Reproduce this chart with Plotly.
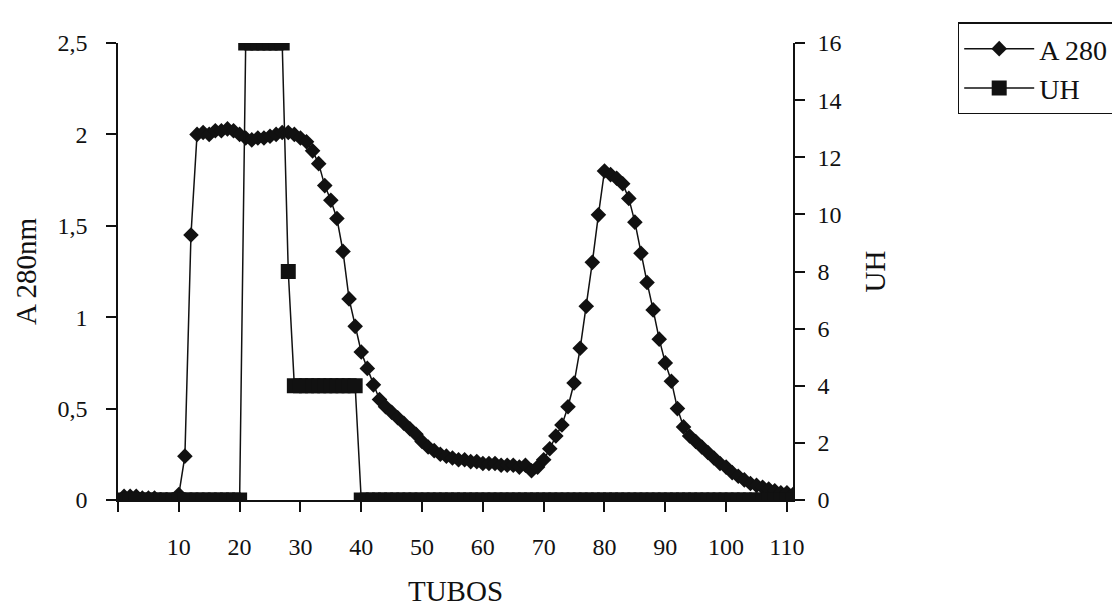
import plotly.graph_objects as go

tubes = list(range(1, 112))
a280 = [
    0.02, 0.02, 0.02, 0.01, 0.01, 0.01, 0.00, 0.00, 0.00, 0.03,
    0.24, 1.45, 2.00, 2.01, 2.00, 2.02, 2.02, 2.03, 2.02, 2.00,
    1.98, 1.97, 1.98, 1.98, 1.99, 2.00, 2.01, 2.01, 2.00, 1.98,
    1.96, 1.91, 1.84, 1.72, 1.64, 1.54, 1.36, 1.10, 0.95, 0.81,
    0.72, 0.63, 0.55, 0.51, 0.48, 0.45, 0.42, 0.39, 0.36, 0.32,
    0.29, 0.27, 0.25, 0.24, 0.23, 0.22, 0.22, 0.21, 0.21, 0.20,
    0.20, 0.20, 0.19, 0.19, 0.19, 0.18, 0.19, 0.16, 0.18, 0.22,
    0.28, 0.35, 0.41, 0.51, 0.64, 0.83, 1.06, 1.30, 1.56, 1.80,
    1.78, 1.76, 1.73, 1.65, 1.52, 1.35, 1.19, 1.04, 0.88, 0.75,
    0.65, 0.50, 0.40, 0.35, 0.32, 0.29, 0.26, 0.23, 0.20, 0.18,
    0.15, 0.13, 0.11, 0.09, 0.08, 0.07, 0.06, 0.05, 0.04, 0.04,
    0.03,
]
uh = [0] * 20 + [16] * 7 + [8] + [4] * 11 + [0] * 72

x_tickvals = [0, 10, 20, 30, 40, 50, 60, 70, 80, 90, 100, 110]
x_ticktext = ["", "10", "20", "30", "40", "50", "60", "70", "80", "90", "100", "110"]
y_tickvals = [0, 0.5, 1, 1.5, 2, 2.5]
y_ticktext = ["0", "0,5", "1", "1,5", "2", "2,5"]
y2_tickvals = [0, 2, 4, 6, 8, 10, 12, 14, 16]
y2_ticktext = ["0", "2", "4", "6", "8", "10", "12", "14", "16"]

FONT = "Liberation Serif"
INK = "#111111"
X_RANGE = [0, 111]

fig = go.Figure()
fig.add_trace(go.Scatter(
    x=tubes, y=a280, name="A 280", mode="lines+markers",
    line=dict(color=INK, width=1.5),
    marker=dict(symbol="diamond", size=12, color=INK),
    xaxis="x", yaxis="y",
))
fig.add_trace(go.Scatter(
    x=tubes, y=uh, name="UH", mode="lines+markers",
    line=dict(color=INK, width=1.5),
    marker=dict(symbol="square", size=15, color=INK),
    xaxis="x", yaxis="y2",
))

axis_common = dict(showgrid=False, zeroline=False, color=INK, automargin=False,
                   tickfont=dict(family=FONT, size=24, color=INK))
TITLE_FONT = dict(family=FONT, size=29, color=INK)

fig.update_layout(
    width=1112, height=607,
    margin=dict(l=118, r=319, t=43, b=107, autoexpand=False),
    paper_bgcolor="white", plot_bgcolor="white",
    font=dict(family=FONT, size=24, color=INK),
    xaxis=dict(range=X_RANGE, tickvals=x_tickvals, ticktext=x_ticktext,
               showline=True, linecolor=INK, linewidth=1.5,
               ticks="outside", ticklen=10, tickwidth=1.5, tickcolor=INK,
               ticklabelstandoff=14,
               title=dict(text="TUBOS", font=TITLE_FONT, standoff=24),
               **axis_common),
    yaxis=dict(range=[0, 2.5], tickvals=y_tickvals, ticktext=y_ticktext,
               showline=True, linecolor=INK, linewidth=1.5,
               ticks="outside", ticklen=10, tickwidth=1.5, tickcolor=INK,
               ticklabelstandoff=14,
               title=dict(text="A 280nm", font=TITLE_FONT, standoff=12),
               **axis_common),
    yaxis2=dict(range=[0, 16], tickvals=y2_tickvals, ticktext=y2_ticktext,
                overlaying="y", side="right", anchor="x",
                showline=True, linecolor=INK, linewidth=1.5,
                ticks="outside", ticklen=10, tickwidth=1.5, tickcolor=INK,
                ticklabelstandoff=8,
                title=dict(text="UH", font=TITLE_FONT, standoff=24),
                **axis_common),
    # inner halves of the crossing tick marks
    xaxis2=dict(range=X_RANGE, tickvals=x_tickvals, overlaying="x", anchor="y", side="bottom",
                ticks="inside", ticklen=9, tickwidth=1.5, tickcolor=INK, automargin=False,
                showticklabels=False, showline=False, showgrid=False, zeroline=False),
    yaxis3=dict(range=[0, 2.5], tickvals=y_tickvals, overlaying="y", anchor="x", side="left",
                ticks="inside", ticklen=9, tickwidth=1.5, tickcolor=INK, automargin=False,
                showticklabels=False, showline=False, showgrid=False, zeroline=False),
    yaxis4=dict(range=[0, 16], tickvals=y2_tickvals, overlaying="y", anchor="x", side="right",
                ticks="inside", ticklen=9, tickwidth=1.5, tickcolor=INK, automargin=False,
                showticklabels=False, showline=False, showgrid=False, zeroline=False),
    legend=dict(x=1.244, y=1.045, xanchor="left", yanchor="top",
                bgcolor="white", bordercolor=INK, borderwidth=1.5,
                font=dict(family=FONT, size=28, color=INK),
                itemwidth=70),
    showlegend=True,
)

fig.write_html("out.html")
